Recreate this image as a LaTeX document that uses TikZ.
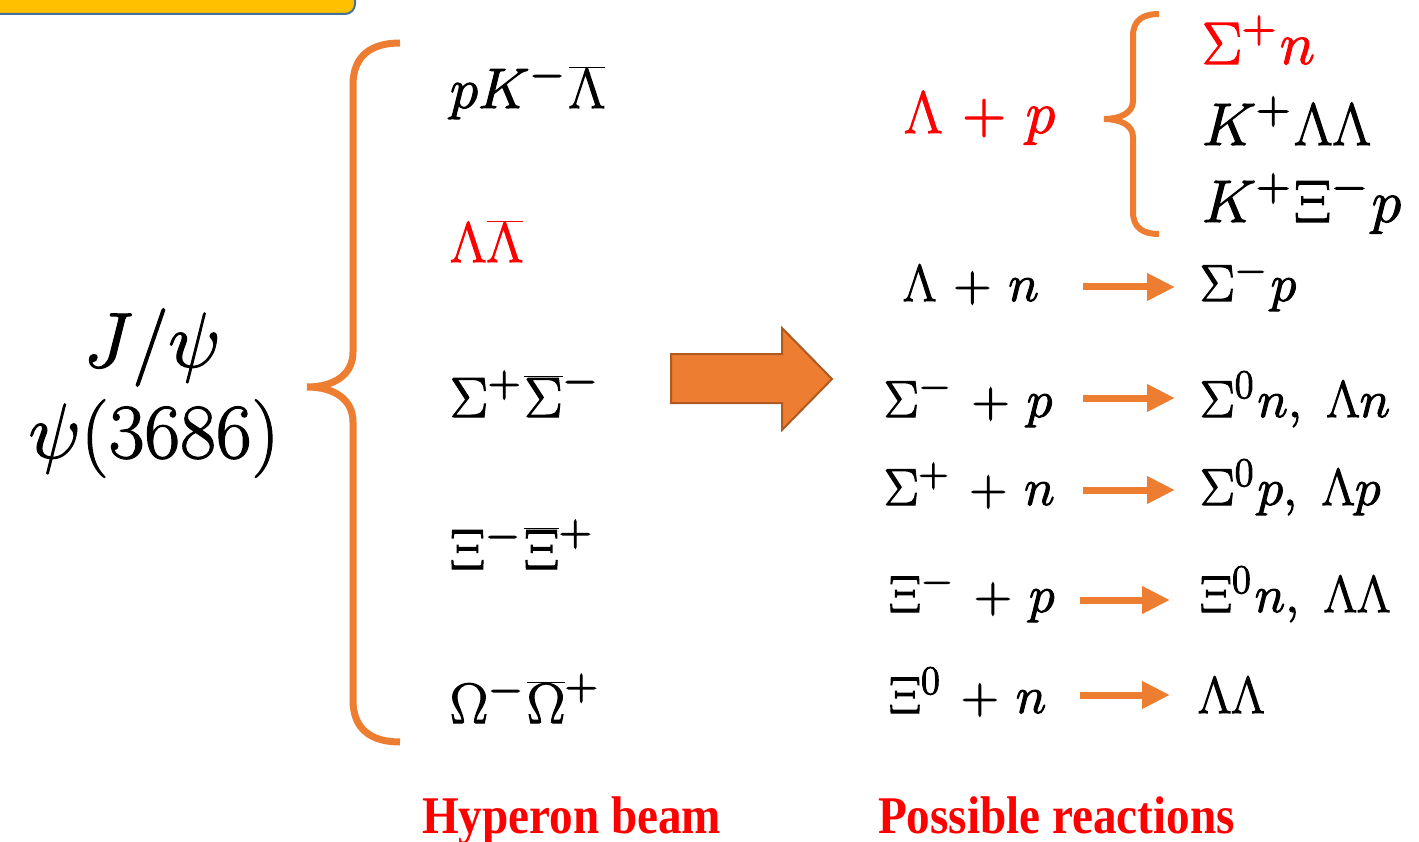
\RequirePackage{fix-cm}
\documentclass[tikz,border=0pt]{standalone}
\usepackage{fontspec}
\usepackage{graphicx}
\newfontfamily\labfont{Liberation Serif}
\usetikzlibrary{arrows.meta}
\definecolor{orng}{HTML}{ED7D31}
\definecolor{orngdark}{HTML}{AE5A21}
\definecolor{ybox}{HTML}{FFC000}
\definecolor{yborder}{HTML}{41719C}
\definecolor{redtxt}{HTML}{FF0000}
\DeclareMathSizes{52}{52}{41}{32}
\DeclareMathSizes{57}{57}{45}{35}
\DeclareMathSizes{60}{60}{47}{37}
\DeclareMathSizes{78}{78}{60}{46}
\newcommand{\wsp}{\medmuskip=6mu\relax}
\newcommand{\heavyon}{\special{pdf:literal direct 2 Tr 1.1 w}}
\newcommand{\heavyoff}{\special{pdf:literal direct 0 Tr}}
\begin{document}
\scriptspace=4pt
\begin{tikzpicture}[x=1pt,y=-1pt,
  every node/.style={inner sep=0pt,outer sep=0pt},
  mathtxt/.style={execute at begin node=\heavyon, execute at end node=\heavyoff},
  beamtxt/.style={mathtxt,anchor=base west,font=\fontsize{57}{60}\selectfont},
  toptxt/.style={mathtxt,anchor=base west,font=\fontsize{60}{64}\selectfont},
  rxtxt/.style={mathtxt,anchor=base west,font=\fontsize{52}{56}\selectfont},
  srctxt/.style={mathtxt,anchor=base,font=\fontsize{78}{82}\selectfont},
  labtxt/.style={anchor=base west,text=redtxt,font=\labfont\bfseries\fontsize{53}{56}\selectfont},
  bracepath/.style={draw=orng,line width=7pt,line cap=butt},
  smallarrow/.style={draw=orng,line width=7pt,-{Triangle[length=28pt,width=26pt]}},
]
\useasboundingbox (0,0) rectangle (1419,842);

% cut-off yellow box at top left
\draw[fill=ybox,draw=yborder,line width=2pt,rounded corners=10pt] (-30,-40) rectangle (355,14);

% source
\node[srctxt] (jpsi) at (152,367) {$J/\psi$};
\node[srctxt] (psi2s) at (154,458) {$\psi(3686)$};

% big brace
\draw[bracepath] (400,43) .. controls (372,43) and (353,55) .. (353,85) -- (353,352)
  .. controls (353,374) and (335,387) .. (307,387)
  .. controls (335,387) and (353,400) .. (353,422) -- (353,700)
  .. controls (353,730) and (372,742) .. (400,742);

% hyperon beams
\node[beamtxt] (b1) at (450,108) {$pK^-\overline{\Lambda}$};
\node[beamtxt,text=redtxt] (b2) at (450,262) {$\Lambda\overline{\Lambda}$};
\node[beamtxt] (b3) at (450,417) {$\Sigma^+\overline{\Sigma}^-$};
\node[beamtxt] (b4) at (450,569) {$\Xi^-\overline{\Xi}^+$};
\node[beamtxt] (b5) at (450,723) {$\Omega^-\overline{\Omega}^+$};

% big arrow
\draw[fill=orng,draw=orngdark,line width=2pt,line join=miter]
  (671,354) -- (782,354) -- (782,328) -- (832,379) -- (782,430) -- (782,403) -- (671,403) -- cycle;

% Lambda + p block
\node[toptxt,text=redtxt] (lp) at (904,133) {$\wsp\Lambda+p$};
\draw[bracepath,line width=6pt] (1159,14) .. controls (1143,14) and (1133,20) .. (1133,36) -- (1133,101)
  .. controls (1133,113) and (1120,119) .. (1104,119)
  .. controls (1120,119) and (1133,125) .. (1133,137) -- (1133,212)
  .. controls (1133,228) and (1143,234) .. (1159,234);
\node[toptxt,text=redtxt] (t1) at (1202,64) {$\Sigma^+n$};
\node[toptxt] (t2) at (1202,145) {$K^+\Lambda\Lambda$};
\node[toptxt] (t3) at (1202,222) {$K^+\Xi^-p$};

% reactions
\node[rxtxt] (r1) at (903,301) {$\wsp\Lambda+n$};
\node[rxtxt] (p1) at (1200,301) {$\Sigma^-p$};
\coordinate (a1s) at (1083,287); \coordinate (a1e) at (1175,287);
\draw[smallarrow] (a1s) -- (a1e);

\node[rxtxt] (r2) at (884,417) {$\wsp\Sigma^-+p$};
\node[rxtxt] (p2) at (1200,417) {$\Sigma^0n,\ \Lambda n$};
\coordinate (a2s) at (1083,398); \coordinate (a2e) at (1175,398);
\draw[smallarrow] (a2s) -- (a2e);

\node[rxtxt] (r3) at (884,505) {$\wsp\Sigma^++n$};
\node[rxtxt] (p3) at (1200,505) {$\Sigma^0p,\ \Lambda p$};
\coordinate (a3s) at (1083,490); \coordinate (a3e) at (1175,490);
\draw[smallarrow] (a3s) -- (a3e);

\node[rxtxt] (r4) at (889,612) {$\wsp\Xi^-+p$};
\node[rxtxt] (p4) at (1200,612) {$\Xi^0n,\ \Lambda\Lambda$};
\coordinate (a4s) at (1080,600); \coordinate (a4e) at (1170,600);
\draw[smallarrow] (a4s) -- (a4e);

\node[rxtxt] (r5) at (889,713) {$\wsp\Xi^0+n$};
\node[rxtxt] (p5) at (1198,713) {$\Lambda\Lambda$};
\coordinate (a5s) at (1080,695); \coordinate (a5e) at (1170,695);
\draw[smallarrow] (a5s) -- (a5e);

% labels
\node[labtxt] (lab1) at (422,833) {\scalebox{0.89}[1]{Hyperon beam}};
\node[labtxt] (lab2) at (878,833) {\scalebox{0.89}[1]{Possible reactions}};
\end{tikzpicture}
\end{document}
